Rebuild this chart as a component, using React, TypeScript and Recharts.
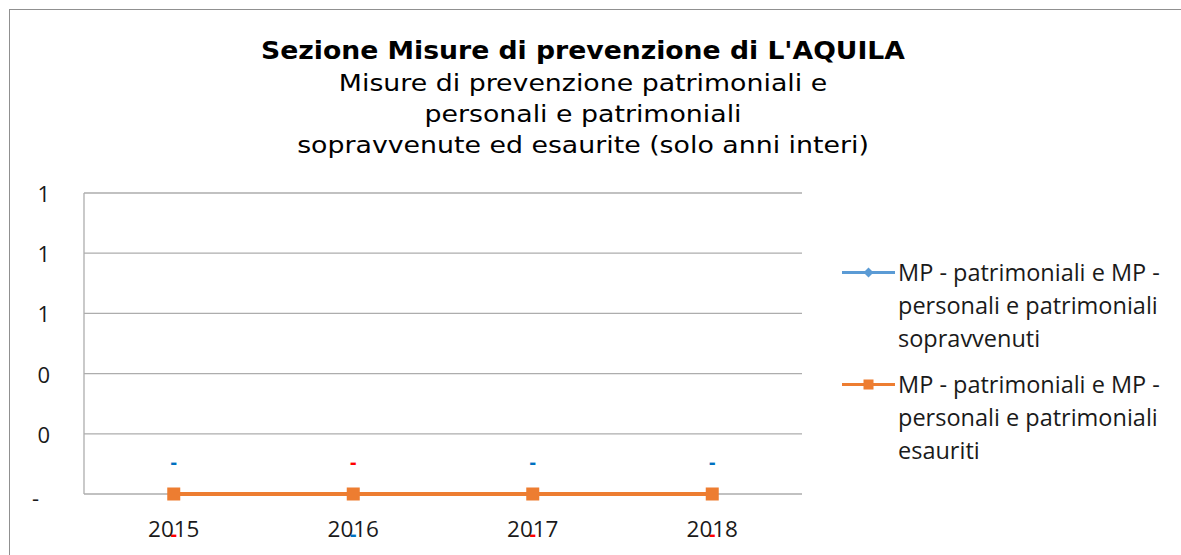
import React from "react";
import { LineChart, Line, XAxis, YAxis, CartesianGrid, LabelList } from "recharts";

const years = ["2015", "2016", "2017", "2018"];
const sopravvenuti = [0, 0, 0, 0];
const esauriti = [0, 0, 0, 0];
const yTicks = [0, 0.2, 0.4, 0.6, 0.8, 1];

const seriesNames = [
  "MP - patrimoniali e MP - personali e patrimoniali sopravvenuti",
  "MP - patrimoniali e MP - personali e patrimoniali esauriti",
];
const titleMain = "Sezione Misure di prevenzione di L'AQUILA";
const subtitleLines = [
  "Misure di prevenzione patrimoniali e",
  "personali e patrimoniali",
  "sopravvenute ed esaurite (solo anni interi)",
];

const data = years.map((y, i) => ({ year: y, sop: sopravvenuti[i], esa: esauriti[i] }));

const BLUE = "#5B9BD5";
const ORANGE = "#ED7D31";
const GRID = "#ADADAD";
const FONT = "'Open Sans', Lato, sans-serif";
const TITLE_FONT = "'DejaVu Sans', Verdana, sans-serif";
const SWAPPED_INDEX = 1;

const fmt = (v: number) => (v === 0 ? "-" : String(Math.round(v)));

const YTick = (props: any) => {
  const { x, y, payload } = props;
  const isZero = payload.value === 0;
  return (
    <text x={x} y={y} dx={isZero ? -11 : 0} dy={isZero ? 3 : 0} textAnchor="end" dominantBaseline="central" fontFamily={FONT} fontSize={22} fill="#1a1a1a">
      {fmt(payload.value)}
    </text>
  );
};

const makeLabel = (color: string, aboveDefault: boolean) => (props: any) => {
  const { x, y, index, value } = props;
  const above = index === SWAPPED_INDEX ? !aboveDefault : aboveDefault;
  return (
    <text x={x} y={above ? y - 33 : y + 39} textAnchor="middle" dominantBaseline="central" fontFamily={FONT} fontWeight="bold" fontSize={20} fill={color}>
      {fmt(value)}
    </text>
  );
};

const LegendBox = () => {
  const items = [
    { name: seriesNames[0], color: BLUE, shape: "diamond" },
    { name: seriesNames[1], color: ORANGE, shape: "square" },
  ];
  return (
    <div style={{ position: "absolute", left: 842, top: 255.5, width: 340, fontFamily: FONT, fontSize: 23.5, color: "#1a1a1a" }}>
      {items.map((it, i) => (
        <div key={i} style={{ display: "flex", alignItems: "flex-start", marginBottom: i === 0 ? 13 : 0 }}>
          <svg width={56} height={33} style={{ flex: "none" }}>
            <line x1={0} y1={16.5} x2={53} y2={16.5} stroke={it.color} strokeWidth={3} />
            {it.shape === "diamond" ? (
              <polygon points="26.5,11.5 31.5,16.5 26.5,21.5 21.5,16.5" fill={it.color} />
            ) : (
              <rect x={21.5} y={11.5} width={10} height={10} fill={it.color} />
            )}
          </svg>
          <div style={{ width: 280, lineHeight: "33px", textAlign: "left", whiteSpace: "normal" }}>{it.name}</div>
        </div>
      ))}
    </div>
  );
};

export default function App() {
  return (
    <div style={{ position: "absolute", left: 0, top: 0, width: 1181, height: 555, background: "#fff", overflow: "hidden" }}>
      <div style={{ position: "absolute", left: 9, top: 9, width: 1200, height: 600, borderLeft: "1.5px solid #909090", borderTop: "1.5px solid #909090" }} />
      <div style={{ position: "absolute", left: 0, top: 35, width: 1166, textAlign: "center", fontFamily: TITLE_FONT, color: "#000" }}>
        <div style={{ fontWeight: "bold", fontSize: 24, lineHeight: "33px", transform: "scaleX(1.11)" }}>{titleMain}</div>
        {subtitleLines.map((l, i) => (
          <div key={i} style={{ fontSize: 22.5, lineHeight: "31px", transform: "scaleX(1.19)" }}>{l}</div>
        ))}
      </div>
      <LineChart width={1181} height={555} data={data} margin={{ top: 193, right: 379, bottom: 21, left: 24 }} style={{ position: "absolute", left: 0, top: 0 }}>
        <CartesianGrid vertical={false} stroke={GRID} strokeWidth={1.3} />
        <XAxis dataKey="year" padding={{ left: 89.75, right: 89.75 }} height={40} axisLine={false} stroke={GRID} tickSize={5} tickMargin={22} tick={{ fontFamily: FONT, fontSize: 22.5, fill: "#1a1a1a" }} />
        <YAxis domain={[0, 1]} ticks={yTicks} interval={0} width={60} stroke={GRID} strokeWidth={1.3} tickLine={false} tickSize={0} tickMargin={34} tick={<YTick />} />
        <Line dataKey="sop" name={seriesNames[0]} stroke={BLUE} strokeWidth={3} isAnimationActive={false}
          dot={(p: any) => <polygon key={p.index} points={`${p.cx},${p.cy - 6} ${p.cx + 6},${p.cy} ${p.cx},${p.cy + 6} ${p.cx - 6},${p.cy}`} fill={BLUE} />}>
          <LabelList dataKey="sop" content={makeLabel("#0070C0", true)} />
        </Line>
        <Line dataKey="esa" name={seriesNames[1]} stroke={ORANGE} strokeWidth={4} isAnimationActive={false}
          dot={(p: any) => <rect key={p.index} x={p.cx - 6.5} y={p.cy - 6.5} width={13} height={13} fill={ORANGE} />}>
          <LabelList dataKey="esa" content={makeLabel("#FF0000", false)} />
        </Line>
      </LineChart>
      <LegendBox />
    </div>
  );
}
